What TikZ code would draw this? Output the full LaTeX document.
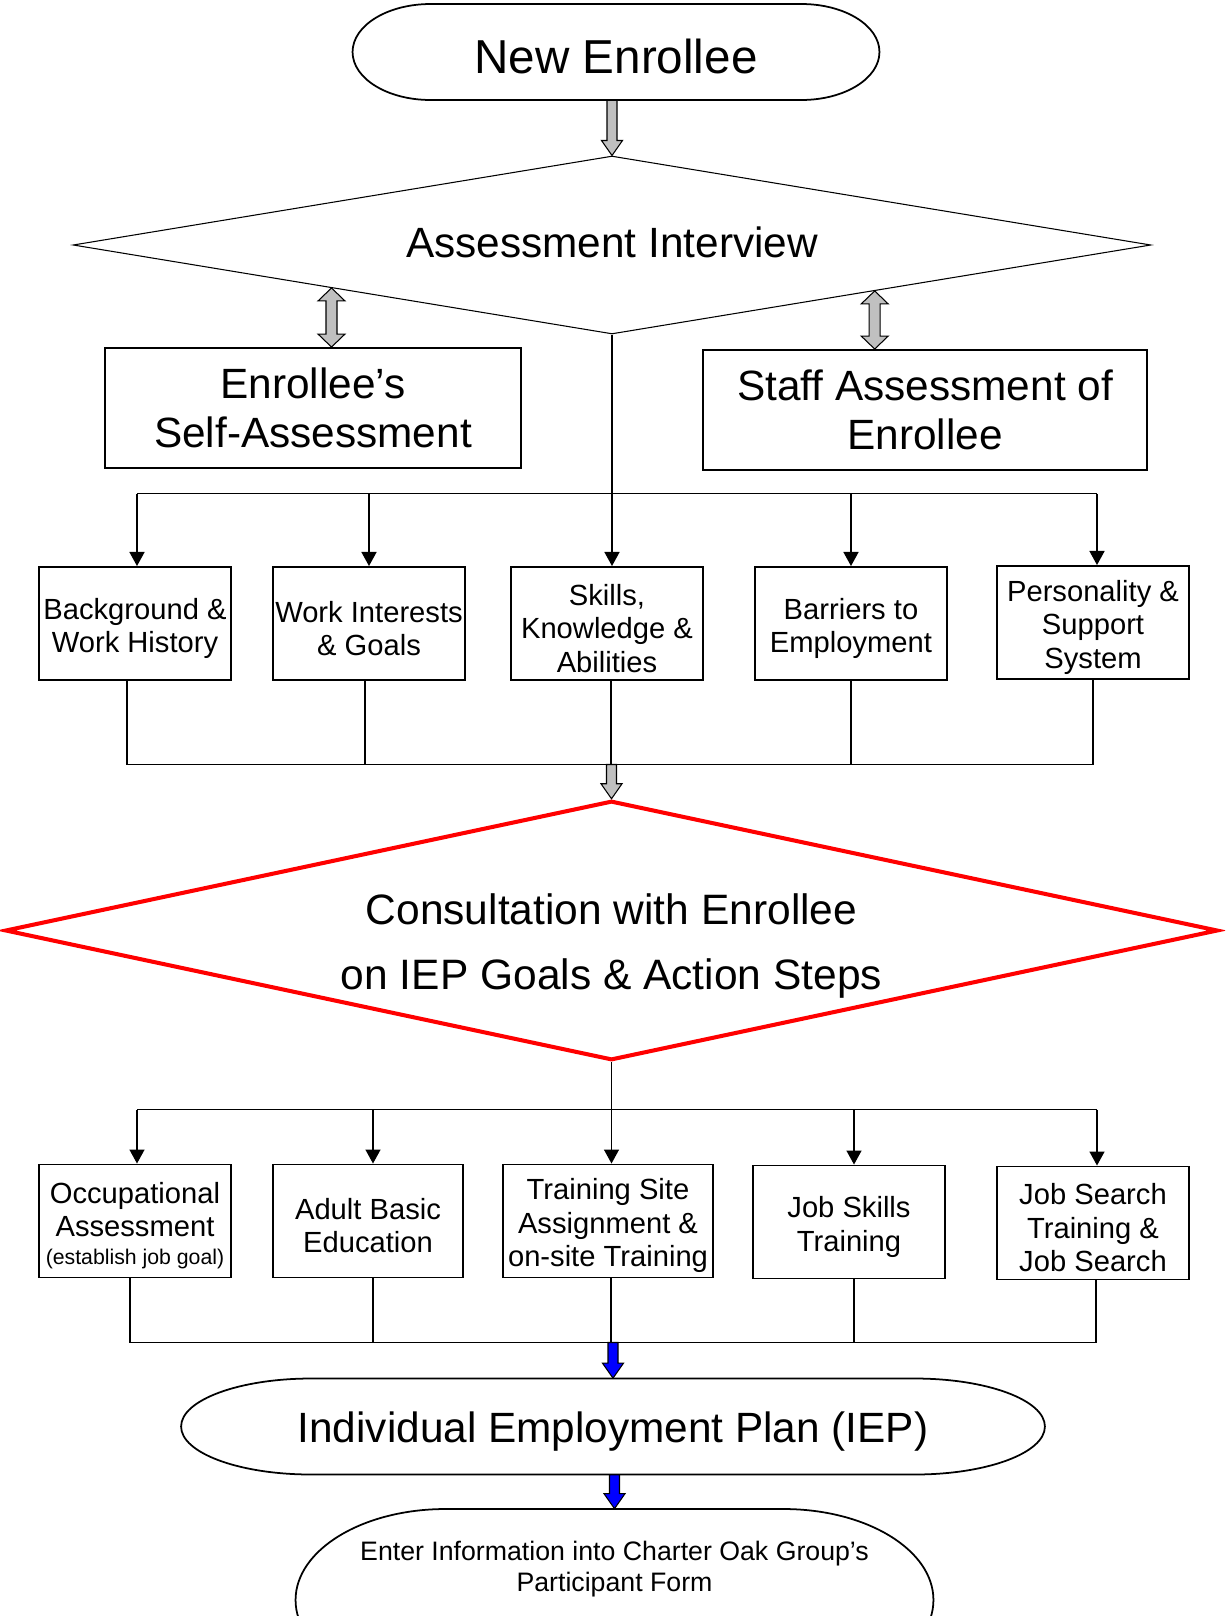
\documentclass[tikz,border=0pt]{standalone}
\usepackage{fontspec}
\setmainfont{Liberation Sans}
\usetikzlibrary{shapes.geometric,arrows.meta,calc}
\definecolor{arrowgray}{HTML}{C0C0C0}
\newcommand{\topgap}{\rule{0pt}{17.5pt}}

\begin{document}
\begin{tikzpicture}[x=0.02cm,y=-0.02cm,
    bigtext/.style={font=\fontsize{24.1}{28.2}\selectfont},
    smalltext/.style={font=\fontsize{16.6}{19}\selectfont},
    box/.style={draw,line width=1.1pt,align=center,inner sep=1pt,smalltext,minimum width=3.84cm,minimum height=2.26cm},
    bigbox/.style={draw,line width=1.1pt,align=center,inner sep=1pt,bigtext,minimum height=2.4cm},
    capsule/.style={align=center,inner sep=0pt},
    line/.style={line width=1pt},
    arrow/.style={line width=1pt,-{Triangle[width=8.5pt,length=8pt]}}]
    % block arrows and rounded ends
    \newcommand{\blockarrow}[3]{%
        \draw[line width=0.6pt,fill=#1] ($(#3 |- #2)+(-5,0)$) -- ($(#3)+(-5,-15)$) -- ($(#3)+(-10.5,-15)$) -- (#3) -- ($(#3)+(10.5,-15)$) -- ($(#3)+(5,-15)$) -- ($(#3 |- #2)+(5,0)$) -- cycle;}
    \newcommand{\twowayarrow}[2]{%
        \draw[line width=0.6pt,fill=arrowgray] (#1) -- ($(#1)+(13.5,13)$) -- ($(#1)+(5.5,13)$) -- ($(#1 |- #2)+(5.5,-13)$) -- ($(#1 |- #2)+(13.5,-13)$) -- (#1 |- #2) -- ($(#1 |- #2)+(-13.5,-13)$) -- ($(#1 |- #2)+(-5.5,-13)$) -- ($(#1)+(-5.5,13)$) -- ($(#1)+(-13.5,13)$) -- cycle;}
    \newcommand{\terminalshape}[5]{%
        \draw[line width=1pt] ([shift={(-#2+#3,#4+(#5))}]#1.center) -- ([shift={(#2-#3,#4+(#5))}]#1.center)
            arc[start angle=90,end angle=-90,x radius=#3,y radius=#4]
            -- ([shift={(-#2+#3,-#4+(#5))}]#1.center)
            arc[start angle=270,end angle=90,x radius=#3,y radius=#4] -- cycle;}

    \useasboundingbox (0,0) rectangle (1225,1616);
    \clip (0,0) rectangle (1225,1616);

    % top
    \node[capsule,minimum width=10.54cm,minimum height=1.92cm,font=\fontsize{27.1}{32}\selectfont] (enrollee) at (616,52) {\rule{0pt}{24.5pt}New Enrollee};
    \terminalshape{enrollee}{5.27cm}{1.56cm}{0.96cm}{0cm}
    \node[diamond,draw,line width=0.6pt,aspect=6,inner sep=0pt,minimum width=21.56cm,minimum height=3.56cm,bigtext] (interview) at (612,245) {\rule[-3.4pt]{0pt}{1pt}Assessment Interview};
    \blockarrow{arrowgray}{enrollee.south}{interview.north}

    \node[bigbox,minimum width=8.32cm] (selfbox) at (313,408) {Enrollee’s\\Self-Assessment};
    \node[bigbox,minimum width=8.88cm] (staffbox) at (925,410) {Staff Assessment of\\Enrollee};
    \coordinate (dleft) at ($(interview.west)!0.48!(interview.south)$);
    \coordinate (dright) at ($(interview.south)!0.487!(interview.east)$);
    \twowayarrow{dleft}{selfbox.north}
    \twowayarrow{dright}{staffbox.north}

    % first row
    \node[box] (background) at (135,623.5) {\topgap Background \&\\Work History};
    \node[box] (interests) at (369,623.5) {\topgap Work Interests\\\& Goals};
    \node[box] (skills) at (607,623.5) {\topgap Skills,\\Knowledge \&\\Abilities};
    \node[box] (barriers) at (851,623.5) {\topgap Barriers to\\Employment};
    \node[box] (personality) at (1093,622.5) {\topgap Personality \&\\Support\\System};

    \coordinate (top1) at (612,493.5);
    \coordinate (bot1) at (612,764.5);
    \draw[arrow] (interview.south) -- (interview.south |- skills.north);
    \draw[line] ($(background.north |- top1)+(2,0)$) -- ($(personality.north |- top1)+(4,0)$);
    \foreach \n/\dx in {background/2,interests/0,barriers/0,personality/4}
        \draw[arrow] ($(\n.north |- top1)+(\dx,0)$) -- ($(\n.north)+(\dx,0)$);
    \foreach \n/\dx in {background/-8,interests/-4,skills/4,barriers/0,personality/0}
        \draw[line] ($(\n.south)+(\dx,0)$) -- ($(\n.south |- bot1)+(\dx,0)$);
    \draw[line] ($(background.south |- bot1)+(-8,0)$) -- (personality.south |- bot1);

    % consultation
    \node[diamond,draw=red,line width=2.3pt,aspect=4.67,inner sep=0pt,minimum width=24.26cm,minimum height=5.19cm,align=center,font=\fontsize{24.2}{37}\selectfont] (consult) at (611.5,930.5) {\rule{0pt}{35pt}Consultation with Enrollee\\on IEP Goals \& Action Steps};
    \blockarrow{arrowgray}{bot1}{consult.north}

    % second row
    \node[box] (occupational) at (135,1221) {\topgap Occupational\\Assessment\\[-3pt]{\fontsize{12.1}{14}\selectfont(establish job goal)}};
    \node[box,minimum width=3.8cm] (basic) at (368,1221) {\topgap Adult Basic\\Education};
    \node[box,minimum width=4.2cm] (training) at (608,1221) {\topgap Training Site\\Assignment \&\\on-site Training};
    \node[box] (jobskills) at (849,1222) {\topgap Job Skills\\Training};
    \node[box] (jobsearch) at (1093,1223) {\topgap Job Search\\Training \&\\Job Search};

    \coordinate (top2) at (612,1109.6);
    \coordinate (bot2) at (612,1342.5);
    \draw[arrow] (consult.south) -- (consult.south |- training.north);
    \draw[line] ($(occupational.north |- top2)+(2,0)$) -- ($(jobsearch.north |- top2)+(4,0)$);
    \foreach \n/\dx in {occupational/2,basic/5,jobskills/5,jobsearch/4}
        \draw[arrow] ($(\n.north |- top2)+(\dx,0)$) -- ($(\n.north)+(\dx,0)$);
    \foreach \n/\dx in {occupational/-5,basic/5,training/3,jobskills/5,jobsearch/3}
        \draw[line] ($(\n.south)+(\dx,0)$) -- ($(\n.south |- bot2)+(\dx,0)$);
    \draw[line] ($(occupational.south |- bot2)+(-5,0)$) -- ($(jobsearch.south |- bot2)+(3,0)$);

    % plan
    \node[capsule,minimum width=17.28cm,minimum height=1.92cm,bigtext] (iep) at (613,1426.5) {\rule{0pt}{23.3pt}Individual Employment Plan (IEP)};
    \terminalshape{iep}{8.64cm}{2.6cm}{0.96cm}{0cm}
    \blockarrow{blue}{bot2}{iep.north}

    \node[capsule,minimum width=12.76cm,minimum height=2.28cm,font=\fontsize{15.2}{17.6}\selectfont] (form) at (614.5,1566) {\rule{0pt}{14.5pt}Enter Information into Charter Oak Group’s\\Participant Form};
    \terminalshape{form}{6.38cm}{3.0cm}{1.82cm}{-0.68cm}
    \blockarrow{blue}{iep.south}{form.north}
\end{tikzpicture}
\end{document}
